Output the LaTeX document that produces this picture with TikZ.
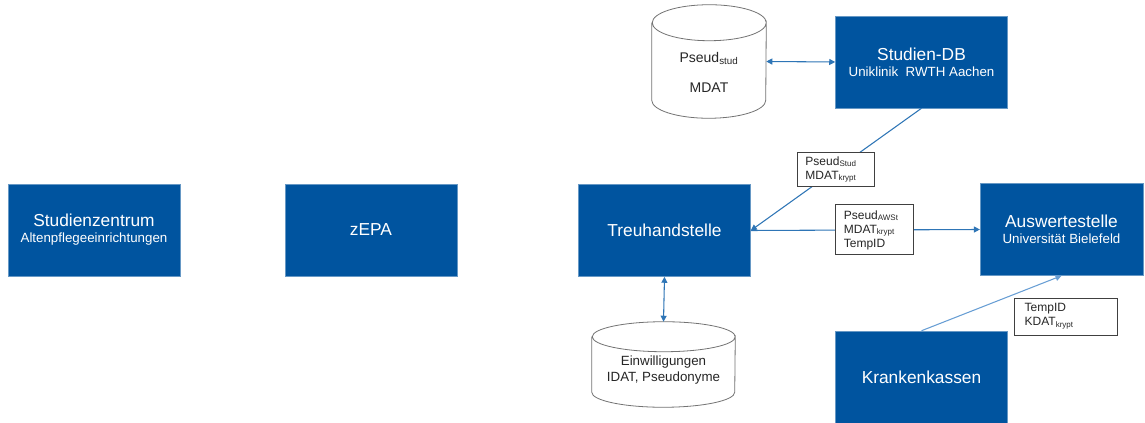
\documentclass[tikz,border=0pt]{standalone}
\usepackage{fontspec}
\setmainfont{Liberation Sans}
\usetikzlibrary{positioning,arrows.meta}

\definecolor{rwthblue}{RGB}{0,84,159}
\definecolor{linkblue}{RGB}{46,117,182}
\definecolor{paleblue}{RGB}{104,158,212}
\definecolor{inkgray}{RGB}{38,38,38}

\newcommand{\headline}[1]{{\fontsize{13}{15}\selectfont #1}}
% database outline round a named node: name, x radius, y radius
\newcommand{\dboutline}[3]{%
  \draw[dbline] ([yshift=-#3]#1.north west) -- ([yshift=#3]#1.south west)
    arc[start angle=180, end angle=360, x radius=#2, y radius=#3]
    -- ([yshift=-#3]#1.north east)
    arc[start angle=0, end angle=-180, x radius=#2, y radius=#3]
    arc[start angle=180, end angle=0, x radius=#2, y radius=#3];}

\begin{document}
\begin{tikzpicture}[x=0.75pt,y=-0.75pt,
    every node/.style={font=\fontsize{10}{12}\selectfont},
    party/.style={draw=rwthblue!60, fill=rwthblue, text=white, align=center,
        minimum width=129pt, minimum height=69pt, inner sep=1pt},
    database/.style={inner sep=0pt},
    dbline/.style={draw=black!55, fill=white, line width=0.6pt},
    dbtext/.style={text=inkgray, align=center, inner sep=0pt},
    datalabel/.style={draw=black!75, fill=white, text=inkgray, align=left,
        font=\fontsize{9}{10.5}\selectfont, inner ysep=1pt},
    link/.style={draw=linkblue, line width=0.8pt},
    tip/.style={-{Triangle[length=4.5pt,width=4.5pt]}},
    bothtips/.style={{Triangle[length=4.5pt,width=4.5pt]}-{Triangle[length=4.5pt,width=4.5pt]}}
    ]
    \useasboundingbox (0,0) rectangle (1145,423);

    %% left parties
    \node[party](sz) at (94,230){\headline{Studienzentrum}\\Altenpflegeeinrichtungen};
    \node[party](zepa) at (371,230){\headline{zEPA}};

    %% trust centre with consent database
    \node[party](treu) at (664.5,230.5){\headline{Treuhandstelle}};
    \node[database, minimum width=107.25pt, minimum height=63.75pt](ew) at (663.5,364.5){};
    \dboutline{ew}{53.625pt}{11.25pt}
    \node[dbtext](ewtext) at (663.5,370.5){Einwilligungen\\IDAT, Pseudonyme};
    \draw[link,bothtips] (treu.south) -- (ew.north);

    %% study database
    \node[party](sdb) at (921.5,62){\headline{Studien-DB}\\Uniklinik\ \ RWTH Aachen};
    \node[database, minimum width=85.5pt, minimum height=84.75pt](pst) at (709,61.5){};
    \dboutline{pst}{42.75pt}{13.5pt}
    \node[dbtext, font=\fontsize{10.5}{12}\selectfont](psttext) at (709,72.5)
        {Pseud\textsubscript{stud}\\[11pt]MDAT};
    \draw[link,bothtips] (pst.east) -- (sdb.west);
    \draw[link,tip] (sdb.south) -- node[datalabel, text width=46pt, inner xsep=6pt,
        minimum height=26pt](lstud){Pseud\textsubscript{Stud}\\MDAT\textsubscript{krypt}} (treu.east);

    %% evaluation centre
    \node[party, minimum width=122pt](ausw) at (1061.5,229.5){\headline{Auswertestelle}\\Universität Bielefeld};
    \draw[link,tip] (treu.east) -- node[datalabel, pos=0.54, text width=46pt, inner xsep=6pt,
        minimum height=37.5pt](laws){Pseud\textsubscript{AWSt}\\MDAT\textsubscript{krypt}\\TempID} (ausw.west);

    %% health insurers
    \node[party](kk) at (921.5,377){\headline{Krankenkassen}};
    \draw[link,draw=paleblue,tip] (kk.north) -- (ausw.south);
    \node[datalabel, text width=62pt, inner xsep=7.5pt, minimum height=28pt](lkk) at (1066,316.5)
        {TempID\\KDAT\textsubscript{krypt}};
\end{tikzpicture}
\end{document}
